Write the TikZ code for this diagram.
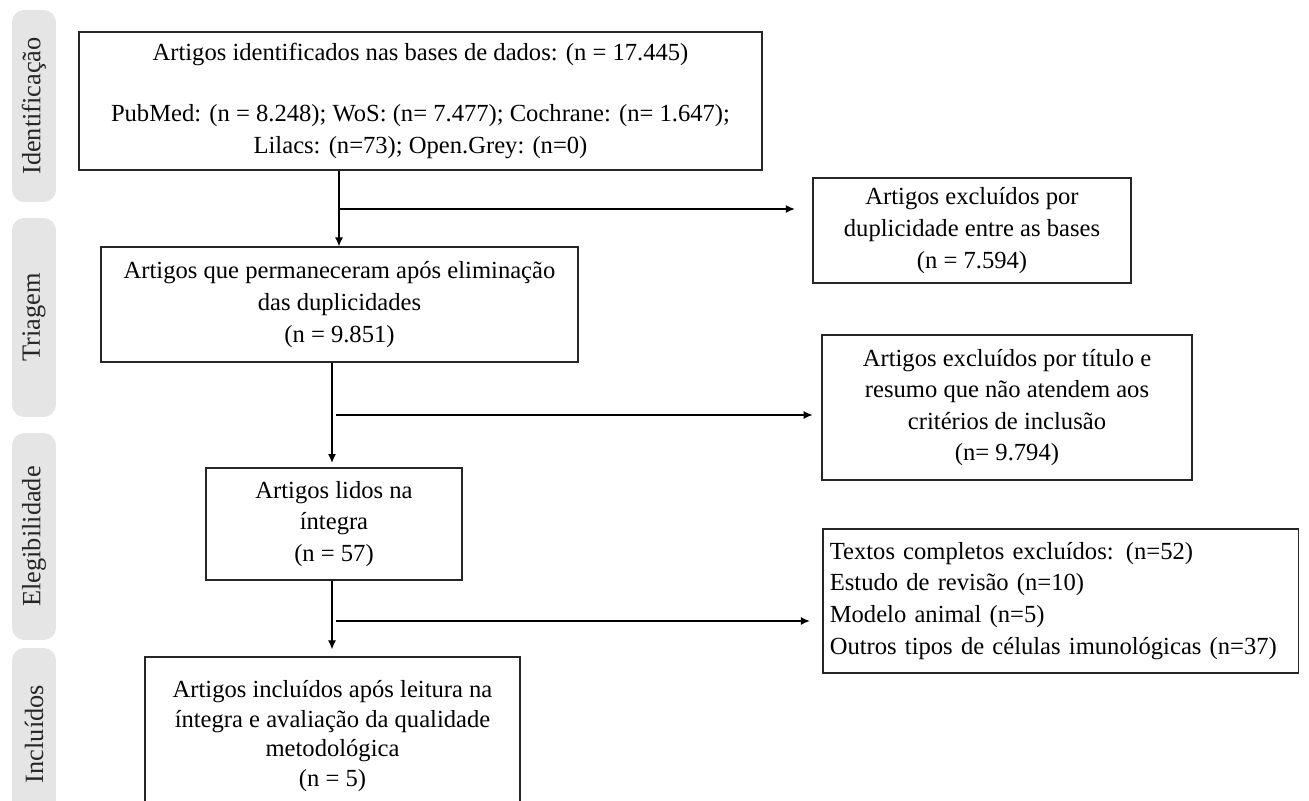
\documentclass[tikz,border=0pt]{standalone}
\usepackage{fontspec}
\setmainfont{Liberation Serif}
\usetikzlibrary{arrows.meta}

\begin{document}
\begin{tikzpicture}[
    x=0.02cm, y=-0.02cm,
    box/.style={draw=black!85, line width=0.9pt, rectangle, align=center,
                inner sep=0pt, font=\fontsize{14}{18}\selectfont},
    tab/.style={fill=black!10, rounded corners=7pt, rotate=90,
                minimum height=0.88cm, inner sep=0pt,
                font=\fontsize{15}{18}\selectfont, text=black!85},
    arrow/.style={-{Latex[length=5pt,width=4.5pt]}, line width=0.6pt}
]
    \useasboundingbox (0,0) rectangle (1309,801);

    % Phase tabs
    \node[tab, minimum width=3.84cm] (tabId) at (34,106) {Identificação};
    \node[tab, minimum width=3.98cm] (tabTr) at (34,317.5) {Triagem};
    \node[tab, minimum width=4.14cm] (tabEl) at (34,536.5) {Elegibilidade};
    \node[tab, minimum width=3.44cm] (tabIn) at (34,734) {Incluídos};

    % Identification
    \node[box, minimum width=13.66cm, minimum height=2.76cm] (ident) at (420.5,101)
        {Artigos identificados nas bases de dados: (n = 17.445)\\[17pt]
         PubMed: (n = 8.248); WoS: (n= 7.477); Cochrane: (n= 1.647);\\
         Lilacs: (n=73); Open.Grey: (n=0)};
    % Duplicates removed
    \node[box, minimum width=6.36cm, minimum height=2.1cm] (dupl) at (972,230.5)
        {Artigos excluídos por\\duplicidade entre as bases\\(n = 7.594)};
    % Screening
    \node[box, minimum width=9.54cm, minimum height=2.3cm] (triag) at (339.5,304.5)
        {Artigos que permaneceram após eliminação\\das duplicidades\\(n = 9.851)};
    % Excluded by title and abstract
    \node[box, minimum width=7.4cm, minimum height=2.9cm] (excl1) at (1007,407.5)
        {Artigos excluídos por título e\\resumo que não atendem aos\\critérios de inclusão\\(n= 9.794)};
    % Full text
    \node[box, minimum width=5.12cm, minimum height=2.24cm] (lidos) at (334,524)
        {Artigos lidos na\\íntegra\\(n = 57)};
    % Full texts excluded
    \node[box, anchor=north west, align=left, inner xsep=4pt,
          text width=9.52cm-8pt, minimum height=2.88cm] (excl2) at (822,528)
        {Textos completos excluídos: (n=52)\\
         Estudo de revisão (n=10)\\
         Modelo animal (n=5)\\
         Outros tipos de células imunológicas (n=37)};
    % Included
    \node[box, minimum width=7.5cm, minimum height=3.16cm,
          font=\fontsize{14}{17}\selectfont] (incl) at (332.5,736)
        {Artigos incluídos após leitura na\\íntegra e avaliação da qualidade\\metodológica\\(n = 5)};

    % Arrows
    \coordinate (j1) at (339,209);
    \coordinate (j2) at (332,415);
    \coordinate (j3) at (332,621);
    \draw[arrow] (j1 |- ident.south) -- (j1 |- triag.north);
    \draw[arrow, shorten >=10pt] (j1) -- (dupl.west |- j1);
    \draw[arrow, shorten >=2.5pt] (j2 |- triag.south) -- (j2 |- lidos.north);
    \draw[arrow, shorten <=2.5pt, shorten >=5pt] (j2) -- (excl1.west |- j2);
    \draw[arrow, shorten >=4pt] (j3 |- lidos.south) -- (j3 |- incl.north);
    \draw[arrow, shorten <=2.5pt, shorten >=7pt] (j3) -- (excl2.west |- j3);
\end{tikzpicture}
\end{document}
